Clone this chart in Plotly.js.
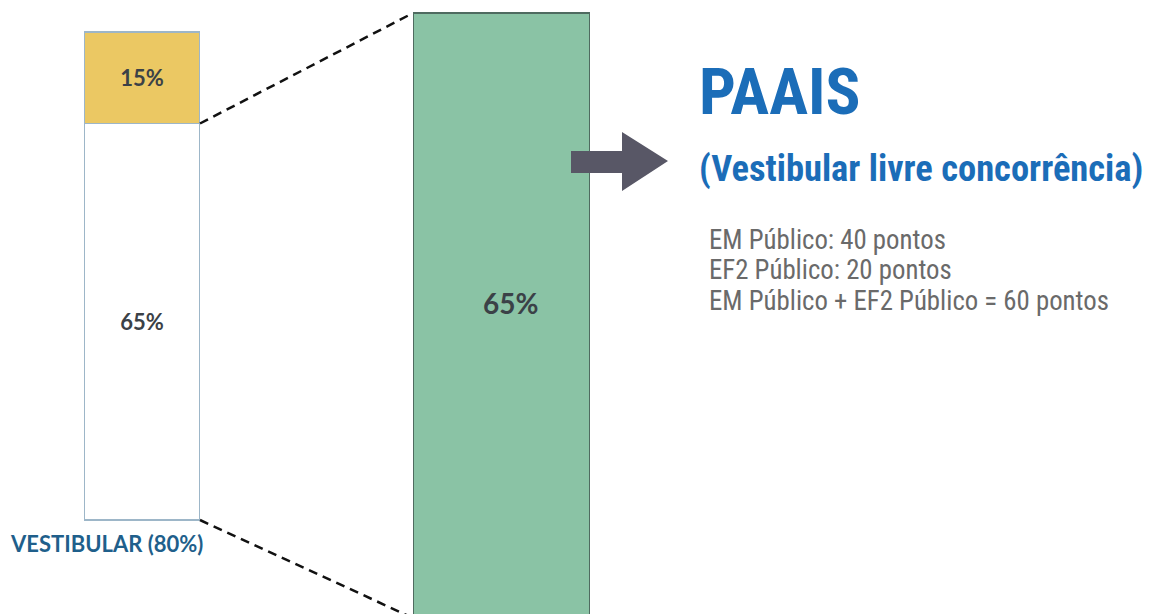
<!DOCTYPE html>
<html>
<head>
<meta charset="utf-8">
<script src="https://cdn.plot.ly/plotly-3.0.1.min.js"></script>
<style>html,body{margin:0;padding:0;background:#fff;}#chart{width:1151px;height:614px;}</style>
</head>
<body>
<div id="chart"></div>
<script>
// ---- data ----
const leftCategory = ['VESTIBULAR'];
const segmentNames = ['Livre concorrência', 'Outras modalidades'];
const livreValues = [65];
const outrasValues = [15];
const paaisCategory = ['PAAIS'];
const paaisValues = [65];
const headline = 'PAAIS';
const subtitle = '(Vestibular livre concorrência)';
const pointLines = ['EM Público: 40 pontos', 'EF2 Público: 20 pontos', 'EM Público + EF2 Público = 60 pontos'];

const W = 1151, H = 614;
const px = x => x / W;
const py = y => 1 - y / H;

const total = livreValues[0] + outrasValues[0];
// left axis: value 0 at pixel 520, total at pixel 32
const kL = (520 - 32) / total;
const yRange = [-(H - 520) / kL, total + 32 / kL];
// right axis: paais value at pixel 13, 0 at pixel 618
const kR = (618 - 13) / paaisValues[0];
const y2Range = [(618 - H) / kR, paaisValues[0] + 13 / kR];

const pctFont = {family: 'Lato, "Open Sans", sans-serif', size: 22, color: '#3b4147', weight: 700};
const condensed = '"Roboto Condensed", "Liberation Sans Narrow", Roboto, sans-serif';

const traces = [
  {type: 'bar', x: leftCategory, y: livreValues, name: segmentNames[0], xaxis: 'x', yaxis: 'y', width: 1,
   marker: {color: '#ffffff', line: {color: '#9db6c8', width: 1.2}},
   texttemplate: '%{y}%', textposition: 'inside', insidetextanchor: 'middle', textfont: pctFont, hoverinfo: 'skip'},
  {type: 'bar', x: leftCategory, y: outrasValues, name: segmentNames[1], xaxis: 'x', yaxis: 'y', width: 1,
   marker: {color: '#ebc863', line: {color: '#9db6c8', width: 1.2}},
   texttemplate: '%{y}%', textposition: 'inside', insidetextanchor: 'middle', textfont: pctFont, hoverinfo: 'skip'},
  {type: 'bar', x: paaisCategory, y: paaisValues, name: 'PAAIS', xaxis: 'x2', yaxis: 'y2', width: 1,
   marker: {color: '#8ac3a5', line: {color: '#4f6b60', width: 1.5}}, textposition: 'none', hoverinfo: 'skip'}
];

// paper coordinates of bar edges
const leftRightEdge = px(200);
const greenLeftEdge = px(413);
const yL = v => (v - yRange[0]) / (yRange[1] - yRange[0]);
const yR = v => (v - y2Range[0]) / (y2Range[1] - y2Range[0]);

const shapes = [
  {type: 'line', xref: 'paper', yref: 'paper', x0: leftRightEdge, y0: yL(livreValues[0]), x1: greenLeftEdge, y1: yR(paaisValues[0]),
   line: {color: '#111', width: 2.5, dash: '9px,6px'}},
  {type: 'line', xref: 'paper', yref: 'paper', x0: leftRightEdge, y0: yL(0), x1: greenLeftEdge, y1: yR(0),
   line: {color: '#111', width: 2.5, dash: '9px,6px'}},
  {type: 'path', xref: 'paper', yref: 'paper', fillcolor: '#585766', line: {width: 0},
   path: `M${px(571)},${py(151)} L${px(622)},${py(151)} L${px(622)},${py(132)} L${px(668)},${py(161)} L${px(622)},${py(191)} L${px(622)},${py(173)} L${px(571)},${py(173)} Z`}
];

const annotations = [
  {xref: 'paper', yref: 'paper', x: px(8), y: py(543), xanchor: 'left', yanchor: 'middle', showarrow: false,
   text: leftCategory[0] + ' (' + total + '%)', font: {family: 'Lato, "Open Sans", sans-serif', size: 22, color: '#1f5f8b', weight: 700}},
  {xref: 'paper', yref: 'paper', x: px(510), y: py(303), xanchor: 'center', yanchor: 'middle', showarrow: false,
   text: paaisValues[0] + '%', font: {family: 'Lato, "Open Sans", sans-serif', size: 28, color: '#3b4147', weight: 700}},
  {xref: 'paper', yref: 'paper', x: px(697), y: py(92), xanchor: 'left', yanchor: 'middle', showarrow: false,
   text: headline, font: {family: condensed, size: 65, color: '#1b6db8', weight: 700}},
  {xref: 'paper', yref: 'paper', x: px(697), y: py(168), xanchor: 'left', yanchor: 'middle', showarrow: false,
   text: subtitle, font: {family: condensed, size: 36.5, color: '#1b6db8', weight: 700}}
];
const lineY = [240, 270, 301];
pointLines.forEach((t, i) => annotations.push({xref: 'paper', yref: 'paper', x: px(707), y: py(lineY[i]), xanchor: 'left', yanchor: 'middle',
  showarrow: false, text: t, font: {family: condensed, size: 26.8, color: '#6a6a6a'}}));

const axisOff = {visible: false, showgrid: false, zeroline: false, fixedrange: true};
const layout = {
  width: W, height: H, margin: {l: 0, r: 0, t: 0, b: 0},
  paper_bgcolor: '#fff', plot_bgcolor: 'rgba(0,0,0,0)', showlegend: false, barmode: 'stack',
  xaxis: Object.assign({}, axisOff, {domain: [px(84), px(200)], type: 'category', range: [-0.5, 0.5]}),
  yaxis: Object.assign({}, axisOff, {range: yRange}),
  xaxis2: Object.assign({}, axisOff, {domain: [px(413), px(590)], type: 'category', range: [-0.5, 0.5], anchor: 'y2'}),
  yaxis2: Object.assign({}, axisOff, {range: y2Range, anchor: 'x2'}),
  shapes: shapes, annotations: annotations
};
Plotly.newPlot('chart', traces, layout, {displayModeBar: false, staticPlot: true});
</script>
</body>
</html>
